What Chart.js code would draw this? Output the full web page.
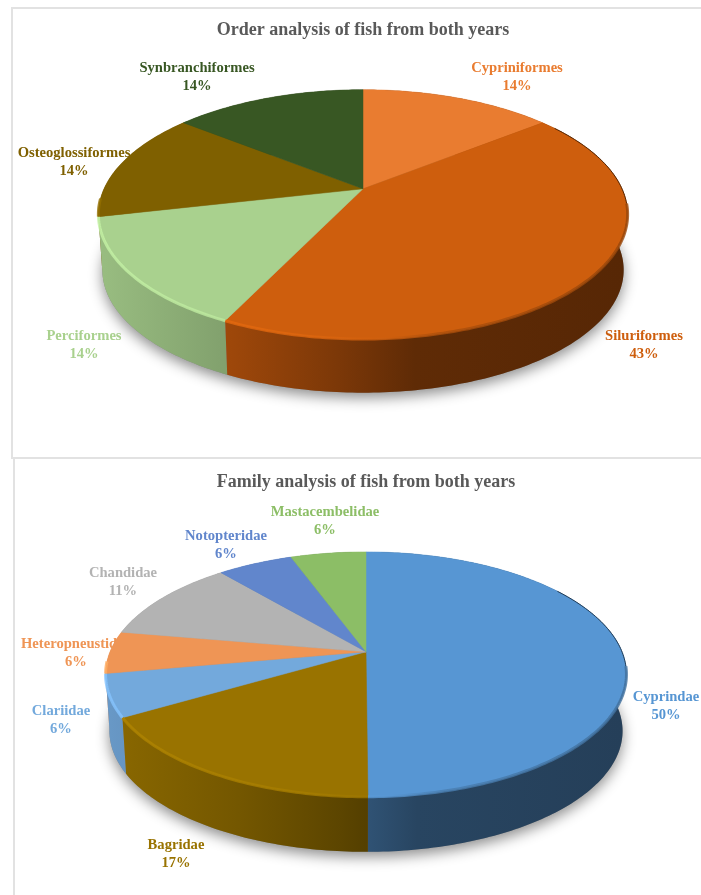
<!DOCTYPE html>
<html>
<head>
<meta charset="utf-8">
<title>Order and family analysis of fish</title>
<script src="https://cdn.jsdelivr.net/npm/chart.js@4"></script>
<style>
  html, body { margin: 0; background: #fff; overflow: hidden; }
  body { position: relative; width: 701px; height: 895px; }
  .panel { position: absolute; box-sizing: border-box; border: 2px solid #e2e2e2; }
  #orderPanel { left: 11px; top: 7px; width: 720px; height: 452px; }
  #familyPanel { left: 13px; top: 457px; width: 720px; height: 460px; }
  canvas { position: absolute; filter: blur(0.4px); }
  #orderChart { left: 12px; top: 7px; }
  #familyChart { left: 12px; top: 458px; }
</style>
</head>
<body>
<div class="panel" id="orderPanel"></div>
<div class="panel" id="familyPanel"></div>
<canvas id="orderChart" width="702" height="451"></canvas>
<canvas id="familyChart" width="702" height="437"></canvas>
<script>
const orderLabels = ['Cypriniformes', 'Siluriformes', 'Perciformes', 'Osteoglossiformes', 'Synbranchiformes'];
const orderValues = [14.3, 42.9, 14.3, 14.3, 14.3];
const orderColors = ['#e97c30', '#ce5e0d', '#a9d18e', '#7f6000', '#385723'];

const familyLabels = ['Cyprindae', 'Bagridae', 'Clariidae', 'Heteropneustidae', 'Chandidae', 'Notopteridae', 'Mastacembelidae'];
const familyValues = [50, 16.7, 5.6, 5.6, 11.1, 5.6, 5.6];
const familyColors = ['#5796d3', '#997300', '#73a9dc', '#ef9555', '#b3b3b3', '#6186cc', '#8cbe66'];

// wall brightness from the left to the right edge of the pie
const wallStops = [[0, 0.9], [0.25, 0.76], [0.45, 0.6], [0.6, 0.46], [1, 0.42]];
const rimStops = [[0, 1.16], [0.4, 1.08], [0.55, 1], [0.65, 0.84], [1, 0.74]];

function shade(hex, f) {
  const n = parseInt(hex.slice(1), 16);
  const c = [n >> 16, (n >> 8) & 255, n & 255].map(v => Math.min(255, Math.round(v * f)));
  return `rgb(${c[0]},${c[1]},${c[2]})`;
}

function project(el, view, angle, onBase) {
  const d = 1 - view.tilt * Math.sin(angle);
  const r = el.outerRadius;
  if (onBase) {
    return [el.x + r * view.baseShrink * Math.cos(angle) / d, el.y + view.depth + r * view.baseSquash * Math.sin(angle) / d];
  }
  return [el.x + r * Math.cos(angle) / d, el.y + r * view.squash * Math.sin(angle) / d];
}

function traceArc(ctx, el, view, a0, a1, onBase) {
  const steps = Math.max(2, Math.ceil(Math.abs(a1 - a0) * 60));
  for (let i = 0; i <= steps; i++) {
    const p = project(el, view, a0 + (a1 - a0) * i / steps, onBase);
    ctx.lineTo(p[0], p[1]);
  }
}

// wall as small quads in one path, a plain outline loses the corner at the sides
function traceWall(ctx, el, view) {
  const steps = Math.max(2, Math.ceil((el.endAngle - el.startAngle) * 60));
  for (let i = 0; i < steps; i++) {
    const a0 = el.startAngle + (el.endAngle - el.startAngle) * i / steps;
    const a1 = el.startAngle + (el.endAngle - el.startAngle) * (i + 1) / steps;
    const q = [project(el, view, a0, false), project(el, view, a1, false), project(el, view, a1, true), project(el, view, a0, true)];
    ctx.moveTo(q[0][0], q[0][1]);
    q.slice(1).forEach(p => ctx.lineTo(p[0], p[1]));
    ctx.closePath();
  }
}

function xGradient(ctx, el, hex, stops) {
  const g = ctx.createLinearGradient(el.x - el.outerRadius, 0, el.x + el.outerRadius, 0);
  stops.forEach(s => g.addColorStop(s[0], shade(hex, s[1])));
  return g;
}

const pie3d = {
  id: 'pie3d',
  beforeDatasetsDraw(chart, args, opts) {
    const ctx = chart.ctx;
    const arcs = chart.getDatasetMeta(0).data;
    const values = chart.data.datasets[0].data;
    const colors = chart.data.datasets[0].backgroundColor;

    // labels go first, the pie covers the long ones
    ctx.save();
    ctx.textAlign = 'center';
    ctx.font = 'bold 14.6px "Liberation Serif"';
    chart.data.labels.forEach((name, i) => {
      ctx.fillStyle = colors[i];
      ctx.fillText(name, opts.labelX[i], opts.labelY[i]);
      ctx.fillText(Math.round(values[i]) + '%', opts.labelX[i], opts.labelY[i] + 18);
    });
    ctx.restore();

    const first = arcs[0];
    // soft shadow under the base
    ctx.save();
    ctx.shadowColor = 'rgba(0,0,0,0.45)';
    ctx.shadowBlur = 14;
    ctx.shadowOffsetY = 5;
    ctx.fillStyle = '#888';
    ctx.beginPath();
    traceArc(ctx, first, opts, 0, Math.PI * 2, true);
    ctx.closePath();
    ctx.fill();
    ctx.restore();

    const order = arcs.map((el, i) => i).sort((a, b) =>
      Math.sin((arcs[a].startAngle + arcs[a].endAngle) / 2) - Math.sin((arcs[b].startAngle + arcs[b].endAngle) / 2));

    order.forEach(i => {
      const el = arcs[i];
      ctx.beginPath();
      traceWall(ctx, el, opts);
      ctx.fillStyle = xGradient(ctx, el, colors[i], wallStops);
      ctx.fill();
    });

    arcs.forEach((el, i) => {
      ctx.beginPath();
      ctx.moveTo(el.x, el.y);
      traceArc(ctx, el, opts, el.startAngle, el.endAngle, false);
      ctx.closePath();
      ctx.fillStyle = colors[i];
      ctx.strokeStyle = colors[i];
      ctx.lineWidth = 0.5;
      ctx.fill();
      ctx.stroke();
    });

    // bevel on the front edge, dark line on the back right edge
    arcs.forEach((el, i) => {
      const a0 = Math.max(el.startAngle, 0.12);
      const a1 = Math.min(el.endAngle, Math.PI - 0.08);
      if (a1 > a0) {
        ctx.save();
        ctx.strokeStyle = xGradient(ctx, el, colors[i], rimStops);
        ctx.globalAlpha = 0.8;
        ctx.lineWidth = 3;
        ctx.beginPath();
        traceArc(ctx, el, opts, a0, a1, false);
        ctx.stroke();
        ctx.restore();
      }
      const b0 = Math.max(el.startAngle, -0.6);
      const b1 = Math.min(el.endAngle, 0.12);
      if (b1 > b0) {
        ctx.save();
        ctx.strokeStyle = shade(colors[i], 0.4);
        ctx.lineWidth = 1;
        ctx.beginPath();
        traceArc(ctx, el, opts, b0, b1, false);
        ctx.stroke();
        ctx.restore();
      }
    });
    return false;
  }
};

function buildPie(canvasId, title, labels, values, colors, radius, view, padding, titleTop) {
  return new Chart(document.getElementById(canvasId), {
    type: 'pie',
    data: {
      labels: labels,
      datasets: [{ data: values, backgroundColor: colors, borderWidth: 0, hoverOffset: 0 }]
    },
    options: {
      responsive: false,
      animation: false,
      radius: radius,
      layout: { padding: padding },
      events: [],
      plugins: {
        legend: { display: false },
        tooltip: { enabled: false },
        title: {
          display: true,
          text: title,
          color: '#595959',
          font: { family: '"Liberation Serif"', size: 18, weight: 'bold' },
          padding: { top: titleTop, bottom: 4 }
        },
        pie3d: view
      }
    },
    plugins: [pie3d]
  });
}

buildPie('orderChart', 'Order analysis of fish from both years', orderLabels, orderValues, orderColors, 259, {
  tilt: 0.205, squash: 0.461, baseSquash: 0.454, baseShrink: 0.985, depth: 56,
  labelX: [505, 632, 72, 62, 185],
  labelY: [65, 333, 333, 150, 65]
}, { bottom: 126 }, 13);

buildPie('familyChart', 'Family analysis of fish from both years', familyLabels, familyValues, familyColors, 256, {
  tilt: 0.184, squash: 0.462, baseSquash: 0.456, baseShrink: 0.985, depth: 57,
  labelX: [654, 164, 49, 64, 111, 214, 313],
  labelY: [243, 391, 257, 190, 119, 82, 58]
}, { left: 6, bottom: 89 }, 14);
</script>
</body>
</html>
